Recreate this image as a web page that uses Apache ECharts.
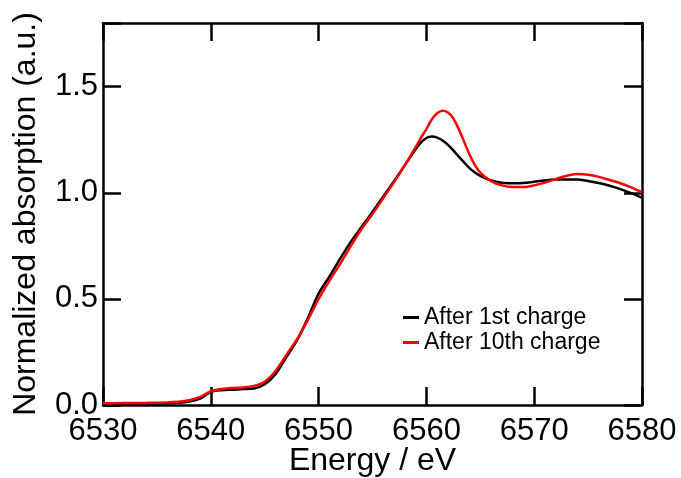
<!DOCTYPE html>
<html>
<head>
<meta charset="utf-8">
<script src="https://cdn.jsdelivr.net/npm/echarts@6/dist/echarts.min.js"></script>
<style>
html, body { margin: 0; padding: 0; background: #fff; }
#chartDiv { width: 681px; height: 478px; }
</style>
</head>
<body>
<div id="chartDiv"></div>
<script>
// energy grid (eV), shared by both spectra
var energy = [6530, 6532, 6534, 6536, 6537, 6538, 6539, 6540, 6541, 6542, 6543, 6544, 6545,
    6546, 6547, 6548, 6549, 6550, 6551, 6552, 6553, 6554, 6555, 6556, 6557, 6558, 6559,
    6559.5, 6560, 6560.5, 6561, 6561.5, 6562, 6562.5, 6563, 6563.5, 6564, 6564.5, 6565,
    6566, 6567, 6568, 6569, 6570, 6571, 6572, 6573, 6574, 6575, 6576, 6577, 6578, 6579, 6580];

var charge1 = [0.005, 0.006, 0.007, 0.008, 0.010, 0.016, 0.030, 0.062, 0.070, 0.072, 0.075, 0.078, 0.098,
    0.145, 0.225, 0.305, 0.41, 0.525, 0.605, 0.69, 0.77, 0.84, 0.91, 0.983, 1.055, 1.13, 1.205,
    1.237, 1.258, 1.265, 1.260, 1.246, 1.226, 1.200, 1.170, 1.143, 1.116, 1.096, 1.080,
    1.058, 1.047, 1.045, 1.046, 1.052, 1.058, 1.062, 1.063, 1.062, 1.056, 1.046, 1.033, 1.017, 0.998, 0.976];

var charge10 = [0.008, 0.009, 0.010, 0.012, 0.015, 0.022, 0.038, 0.065, 0.075, 0.080, 0.083, 0.090, 0.110,
    0.160, 0.235, 0.31, 0.40, 0.50, 0.585, 0.665, 0.75, 0.83, 0.90, 0.975, 1.05, 1.13, 1.215,
    1.26, 1.30, 1.346, 1.375, 1.386, 1.378, 1.350, 1.300, 1.240, 1.180, 1.130, 1.095,
    1.055, 1.035, 1.027, 1.027, 1.035, 1.048, 1.065, 1.080, 1.088, 1.085, 1.075, 1.060, 1.045, 1.025, 1.002];

var seriesNames = ['After 1st charge', 'After 10th charge'];
var seriesColors = ['#000000', '#ff0000'];

function pairs(xs, ys) {
    var out = [];
    for (var i = 0; i < xs.length; i++) out.push([xs[i], ys[i]]);
    return out;
}

var myChart = echarts.init(document.getElementById('chartDiv'));
var font = 'Liberation Sans, Arial, Helvetica, sans-serif';

var axisCommon = {
    axisLine: {show: true, onZero: false, lineStyle: {color: '#000', width: 2.5}},
    axisTick: {show: true, inside: true, length: 18, lineStyle: {color: '#000', width: 2.5}},
    splitLine: {show: false}
};

myChart.setOption({
    animation: false,
    grid: {left: 103, right: 39, top: 23, bottom: 73, outerBoundsMode: 'none', containLabel: false},
    legend: {
        orient: 'vertical',
        left: 398,
        top: 301,
        icon: 'rect',
        itemWidth: 16,
        itemHeight: 3,
        itemGap: 2,
        textStyle: {fontFamily: font, fontSize: 23, color: '#000'},
        data: seriesNames
    },
    xAxis: [
        Object.assign({
            type: 'value', min: 6530, max: 6580, interval: 10, position: 'bottom',
            name: 'Energy / eV', nameLocation: 'middle', nameGap: 40, nameMoveOverlap: false,
            nameTextStyle: {fontFamily: font, fontSize: 32, color: '#000'},
            axisLabel: {
                fontFamily: font, fontSize: 31, color: '#000', margin: 11,
                formatter: function (v) { return String(v); }
            }
        }, axisCommon),
        Object.assign({
            type: 'value', min: 6530, max: 6580, interval: 10, position: 'top',
            axisLabel: {show: false}
        }, axisCommon)
    ],
    yAxis: [
        Object.assign({
            type: 'value', min: 0, max: 1.8, interval: 0.5, position: 'left',
            name: 'Normalized absorption (a.u.)', nameLocation: 'middle', nameGap: 61, nameMoveOverlap: false,
            nameTextStyle: {fontFamily: font, fontSize: 32, color: '#000'},
            axisLabel: {
                fontFamily: font, fontSize: 31, color: '#000', margin: 5,
                formatter: function (v) {
                    return Math.abs(v * 2 - Math.round(v * 2)) < 1e-6 ? v.toFixed(1) : '';
                }
            }
        }, axisCommon),
        Object.assign({
            type: 'value', min: 0, max: 1.8, interval: 0.5, position: 'right',
            axisLabel: {show: false}
        }, axisCommon)
    ],
    series: [
        {
            name: seriesNames[0], type: 'line', smooth: 0.3, showSymbol: false,
            data: pairs(energy, charge1),
            itemStyle: {color: seriesColors[0]},
            lineStyle: {color: seriesColors[0], width: 2.5}
        },
        {
            name: seriesNames[1], type: 'line', smooth: 0.3, showSymbol: false,
            data: pairs(energy, charge10),
            itemStyle: {color: seriesColors[1]},
            lineStyle: {color: seriesColors[1], width: 2.5}
        }
    ]
});
</script>
</body>
</html>
